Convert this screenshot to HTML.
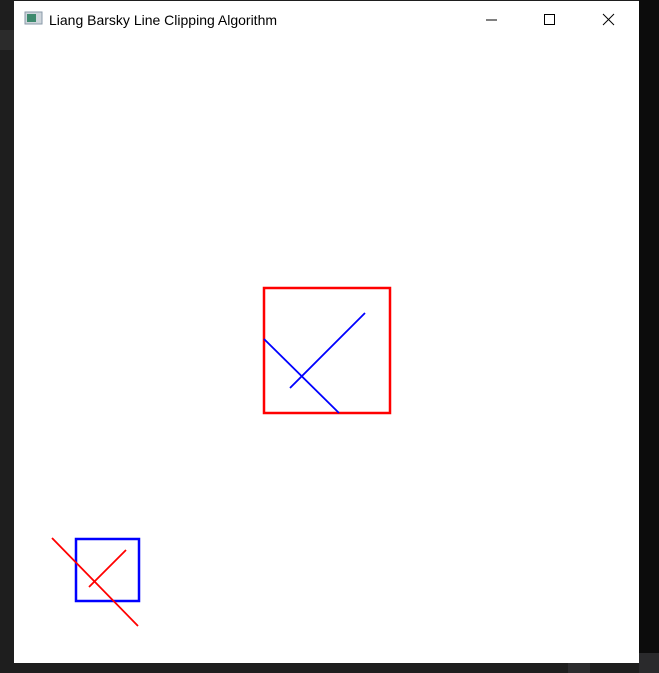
<!DOCTYPE html>
<html><head><meta charset="utf-8"><style>
html,body{margin:0;padding:0;width:659px;height:673px;overflow:hidden;background:#1e1e1e;font-family:"Liberation Sans",sans-serif}
</style></head><body>
<svg width="659" height="673" style="position:absolute;left:0;top:0">
<rect x="0" y="0" width="659" height="673" fill="#1e1e1e"/>
<rect x="0" y="30" width="14" height="20" fill="#2b2b2b"/>
<rect x="639" y="0" width="20" height="653" fill="#0c0c0c"/>
<rect x="639" y="653" width="20" height="20" fill="#2a2a2c"/>
<rect x="568" y="663" width="22" height="10" fill="#2c2c2e"/>
<rect x="14" y="1" width="625" height="662" fill="#ffffff"/>
<g>
<rect x="25" y="12" width="17" height="12" fill="#cfd6dc" stroke="#8a9aa8"/>
<rect x="27" y="14" width="9" height="8" fill="#3e8a6e"/>
</g>
<text x="49" y="25" font-size="14" fill="#000" font-family="Liberation Sans, sans-serif">Liang Barsky Line Clipping Algorithm</text>
<line x1="486" y1="20" x2="497" y2="20" stroke="#000" stroke-width="1"/>
<rect x="544.5" y="14.5" width="10" height="10" fill="none" stroke="#000"/>
<g stroke="#000"><line x1="603" y1="14" x2="614" y2="25"/><line x1="614" y1="14" x2="603" y2="25"/></g>
<g id="marks"></g>
</svg>
<script>
const rects=[[264,288,390,413,'red'],[76,539,139,601,'blue']];
const lines=[[264,339,339,413,'blue'],[290,388,365,313,'blue'],[52,538,138,626,'red'],[89,587,126,550,'red']];
const g=document.getElementById('marks');const ns='http://www.w3.org/2000/svg';
rects.forEach((r,i)=>{const e=document.createElementNS(ns,'rect');
e.setAttribute('x',r[0]);e.setAttribute('y',r[1]);e.setAttribute('width',r[2]-r[0]);e.setAttribute('height',r[3]-r[1]);
e.setAttribute('fill','none');e.setAttribute('stroke',r[4]==='red'?'#ff0000':'#0000ff');e.setAttribute('stroke-width','2.5');


g.appendChild(e);});
lines.forEach(l=>{const e=document.createElementNS(ns,'line');
e.setAttribute('x1',l[0]);e.setAttribute('y1',l[1]);e.setAttribute('x2',l[2]);e.setAttribute('y2',l[3]);
e.setAttribute('stroke',l[4]==='red'?'#ff0000':'#0000ff');e.setAttribute('stroke-width','1.8');


g.appendChild(e);});
</script>
</body></html>
